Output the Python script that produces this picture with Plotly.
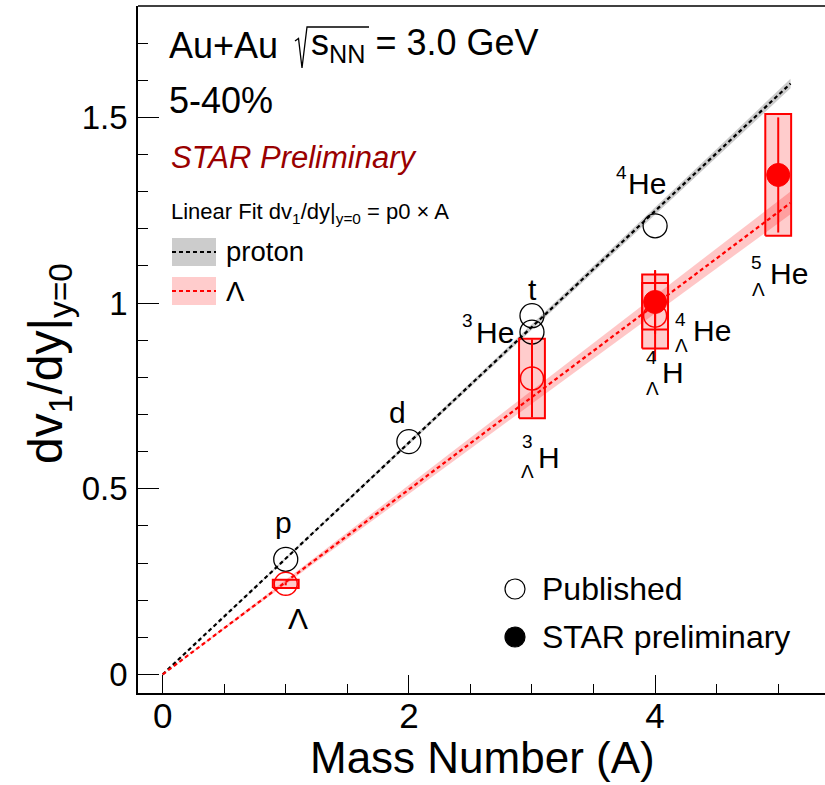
import plotly.graph_objects as go

# ---------------- data ----------------
# Published light nuclei (black open circles)
pub_A = [1, 2, 3, 3, 4]
pub_v = [0.310, 0.627, 0.966, 0.922, 1.208]

# Published Lambda / hypernuclei (red open circles)
lam_A = [1, 3, 4]
lam_v = [0.244, 0.797, 0.966]
lam_stat = [0.004, 0.105, 0.120]
lam_sys = [0.011, 0.107, 0.088]

# STAR preliminary hypernuclei (red filled circles)
pre_A = [4, 5]
pre_v = [1.003, 1.345]
pre_stat = [0.086, 0.155]
pre_sys = [0.074, 0.164]

# linear fits dv1/dy = p0 * A
fit_A = [0.0, 5.1]
p_fit, p_fit_err = 0.312, 0.0025
l_fit, l_fit_err = 0.249, 0.006

x_ticks = [0, 2, 4]
y_ticks = [0, 0.5, 1, 1.5]
y_ticklabels = ["0", "0.5", "1", "1.5"]

# ---------------- layout geometry ----------------
W, H = 825, 785
L, T, B, R = 138, 6, 92, 0
PW, PH = W - L - R, H - T - B
BOX_HW = 0.105
FONT = "Liberation Sans, Arial, Helvetica, sans-serif"


def pxx(xp):
    return (xp - L) / PW


def pyy(yp):
    return (H - B - yp) / PH


fig = go.Figure()

# fit bands + lines
for p0, e, band, lc in [(p_fit, p_fit_err, "rgb(204,204,204)", "black"),
                        (l_fit, l_fit_err, "rgba(255,0,0,0.22)", "red")]:
    bx = [fit_A[0], fit_A[1], fit_A[1], fit_A[0], fit_A[0]]
    by = [(p0 - e) * fit_A[0], (p0 - e) * fit_A[1], (p0 + e) * fit_A[1],
          (p0 + e) * fit_A[0], (p0 - e) * fit_A[0]]
    fig.add_trace(go.Scatter(x=bx, y=by, mode="lines", fill="toself",
                             fillcolor=band, line=dict(width=0),
                             hoverinfo="skip", showlegend=False))
    fig.add_trace(go.Scatter(x=fit_A, y=[p0 * a for a in fit_A], mode="lines",
                             line=dict(color=lc, width=2.2, dash="4px,3px"),
                             hoverinfo="skip", showlegend=False))

# systematic boxes
sx, sy = [], []
for a, v, s in zip(lam_A + pre_A, lam_v + pre_v, lam_sys + pre_sys):
    sx += [a - BOX_HW, a + BOX_HW, a + BOX_HW, a - BOX_HW, a - BOX_HW, None]
    sy += [v - s, v - s, v + s, v + s, v - s, None]
fig.add_trace(go.Scatter(x=sx, y=sy, mode="lines", fill="toself",
                         fillcolor="rgba(255,0,0,0.2)",
                         line=dict(color="red", width=2),
                         hoverinfo="skip", showlegend=False))

# published light nuclei
fig.add_trace(go.Scatter(x=pub_A, y=pub_v, mode="markers",
                         marker=dict(size=24, color="rgba(0,0,0,0)",
                                     line=dict(color="black", width=1.3)),
                         showlegend=False))
# published hypernuclei
fig.add_trace(go.Scatter(x=lam_A, y=lam_v, mode="markers",
                         error_y=dict(type="data", array=lam_stat, color="red",
                                      thickness=2, width=0),
                         marker=dict(size=23, color="rgba(0,0,0,0)",
                                     line=dict(color="red", width=1.5)),
                         showlegend=False))
# preliminary
fig.add_trace(go.Scatter(x=pre_A, y=pre_v, mode="markers",
                         error_y=dict(type="data", array=pre_stat, color="red",
                                      thickness=2, width=0),
                         marker=dict(size=23, color="red",
                                     line=dict(color="red", width=1)),
                         showlegend=False))

ann = []
shapes = []


def text(xp, yp, s, size, color="black", xanchor="center", yanchor="middle",
         italic=False, angle=0):
    ann.append(dict(x=pxx(xp), y=pyy(yp), xref="paper", yref="paper", text=s,
                    showarrow=False, xanchor=xanchor, yanchor=yanchor,
                    textangle=angle,
                    font=dict(family=FONT, size=size, color=color,
                              style="italic" if italic else "normal")))


# header texts
text(167, 45, "Au+Au", 36, xanchor="left")
text(309, 45, "s<sub>NN</sub> = 3.0 GeV", 36, xanchor="left")
shapes.append(dict(type="path", xref="paper", yref="paper",
                   path="M {},{} L {},{} L {},{} L {},{} L {},{}".format(
                       pxx(295), pyy(41), pxx(298.5), pyy(38.5), pxx(302), pyy(68),
                       pxx(307), pyy(27), pxx(369), pyy(27)),
                   line=dict(color="black", width=1.3)))
text(167, 101, "5-40%", 36, xanchor="left")
text(169, 157, "STAR Preliminary", 31, color="rgb(153,0,0)", xanchor="left",
     italic=True)
text(169, 213, "Linear Fit dv<sub>1</sub>/dy|<sub>y=0</sub> = p0 × A", 22,
     xanchor="left")

# fit legend
for yc, fc, lc, lab in [(252, "rgb(204,204,204)", "black", "proton"),
                        (291, "rgb(255,204,204)", "red", "Λ")]:
    shapes.append(dict(type="rect", xref="paper", yref="paper",
                       x0=pxx(172), x1=pxx(216), y0=pyy(yc - 14), y1=pyy(yc + 14),
                       fillcolor=fc, line=dict(width=0)))
    shapes.append(dict(type="line", xref="paper", yref="paper",
                       x0=pxx(172), x1=pxx(216), y0=pyy(yc), y1=pyy(yc),
                       line=dict(color=lc, width=2, dash="4px,3px")))
    text(224, yc, lab, 27.5, xanchor="left")

# marker legend
for yc, fill, lab in [(589, "rgba(0,0,0,0)", "Published"),
                      (637, "black", "STAR preliminary")]:
    shapes.append(dict(type="circle", xref="paper", yref="paper",
                       x0=pxx(505), x1=pxx(525), y0=pyy(yc - 10), y1=pyy(yc + 10),
                       fillcolor=fill, line=dict(color="black", width=1.2)))
    text(540, yc, lab, 32, xanchor="left")

# point labels
text(283, 522, "p", 30)
text(298, 618, "Λ", 30)
text(397, 412, "d", 30)
text(532, 289, "t", 30)
text(467, 320, "3", 19)
text(495, 332, "He", 30)
text(621, 172, "4", 19)
text(647, 184, "He", 30)
text(527, 441, "3", 19)
text(549, 457, "H", 30)
text(527, 472, "Λ", 19)
text(680, 319, "4", 19)
text(712, 330, "He", 30)
text(681, 345, "Λ", 19)
text(651, 357, "4", 19)
text(673, 373, "H", 30)
text(652, 389, "Λ", 19)
text(756, 263, "5", 19)
text(789, 274, "He", 30)
text(758, 289, "Λ", 19)

# axis titles
text(482, 757, "Mass Number (A)", 44)
text(49, 364, "dv<sub>1</sub>/dy|<sub>y=0</sub>", 48, angle=-90)

# top frame line
shapes.append(dict(type="line", xref="paper", yref="paper", x0=0, x1=1, y0=1, y1=1,
                   line=dict(color="black", width=1.5)))

fig.update_layout(
    width=W, height=H,
    margin=dict(l=L, r=R, t=T, b=B, pad=0),
    paper_bgcolor="white", plot_bgcolor="white",
    annotations=ann, shapes=shapes,
    showlegend=False,
    font=dict(family=FONT, color="black"),
)
fig.update_xaxes(range=[-0.2, 5.38], showgrid=False, zeroline=False,
                 showline=True, linecolor="black", linewidth=1.5, mirror=False,
                 ticks="inside", ticklen=18, tickwidth=1.3, tickcolor="black",
                 tickvals=x_ticks, ticktext=[str(v) for v in x_ticks],
                 tickfont=dict(size=35, family=FONT), ticklabelstandoff=-9,
                 minor=dict(ticks="inside", ticklen=9, tickwidth=1.3,
                            tickcolor="black", dtick=0.5, tick0=0))
fig.update_yaxes(range=[-0.05, 1.8], showgrid=False, zeroline=False,
                 showline=True, linecolor="black", linewidth=1.5, mirror=False,
                 ticks="inside", ticklen=21, tickwidth=1.3, tickcolor="black",
                 tickvals=y_ticks, ticktext=y_ticklabels,
                 tickfont=dict(size=33, family=FONT), ticklabelstandoff=2,
                 minor=dict(ticks="inside", ticklen=10, tickwidth=1.3,
                            tickcolor="black", dtick=0.1, tick0=0))

fig.write_html("out.html", config={"displayModeBar": False},
               post_script="document.body.style.margin='0';")
